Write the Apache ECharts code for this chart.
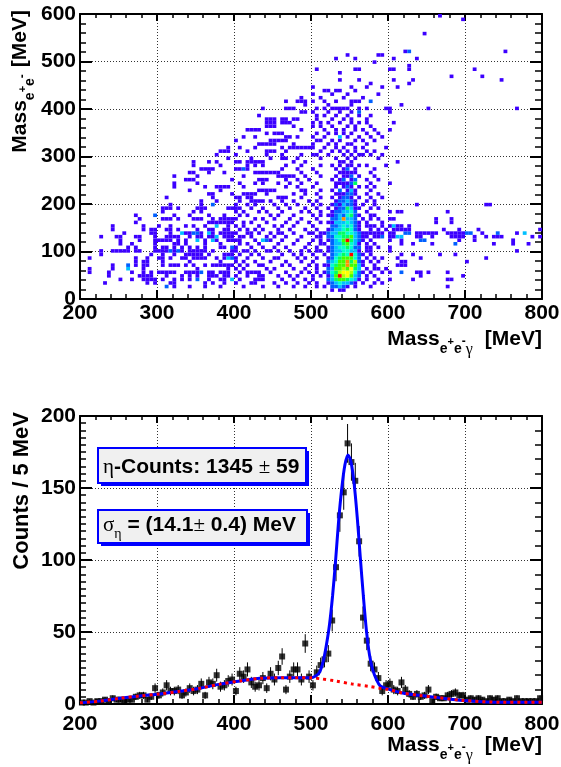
<!DOCTYPE html>
<html>
<head>
<meta charset="utf-8">
<script src="https://cdn.jsdelivr.net/npm/echarts@6/dist/echarts.min.js"></script>
<style>
  html, body { margin: 0; padding: 0; background: #fff; }
  #chart { width: 561px; height: 767px; }
</style>
</head>
<body>
<div id="chart"></div>
<script>
// top panel: 2D histogram, x bins of 5 MeV from 200, y bins of 7.5 MeV from 0
// one string per y-bin row (row 0 = lowest), tokens "col" (1 entry) or "col:count"
const heatRows = [
  '',
  '',
  '65 67 68',
  '22:2 24 28 32 36 42 47 51 55 58 61 63 65:2 66:2 67:3 68:2 69 71 75 95',
  '6 17 19 23 24 32 34 37 40 44 45 50 53 56 59 61 64 65:2 66:3 67:4 68:3 69:3 70:2 71 73 76 78',
  '10 13 16 17 18 19 21 24 26 28 30:2 33 36 37 39:3 41 45 46 47 52 55 58 60 64:2 65:3 66:5 67:6 68:6 69:5 70:4 71:3 72 74 77 80 86 95 96',
  '7 15 16 17 18 22 26 28 30 33 34 35 37 38 40 43 46 47 51 54 56 60 62 64 65:3 66:6 67:10 68:7 69:8 70:6 71:3 72:2 74 76 88 99',
  '2 7 13 16 18 20 21 22 23 24 27 28 29 30 31:2 33 34 36 37 38 41 43 44 45 46 49 53 57 59 61 63 64:2 65:4 66:5 67:7 68:8 69:8 70:7 71:4 72:2 73 75 78 80 83:2 87 88 90 95',
  '2 8 12:3 16 30 38 40 42 48 50 55 58 61 64:2 65:3 66:6 67:6 68:7 69:6 70:8 71:5 72:3 74 76 77 79',
  '8 12:2 14 16 17 21 23 24 25 27 29 32 34 35 36 37 38 39 41 43 46 47 52 54 59 61 63 64 65:4 66:5 67:6 68:6 69:9 70:6 71:6 72:3 73 76 82 83 84',
  '14 16 17 21 28 36 40 42 45 49 53 57 60 64:2 65:3 66:4 67:6 68:6 69:9 70:5 71:7 72:2 73 75 77 83 84 100',
  '2 14 17 20 21 23 26 27 29 30 31 32 35 37 38:3 39:2 40 43 47 50 51 56 58 61 64 65:2 66:4 67:5 68:6 69:6 70:6 71:4 72:2 74 76 78 82 88 105',
  '5 18 21 24 27 28 29 30 31 33 37 38 39 41 44 46 52 55 57 60 63 65:2 66:3 67:4 68:5 69:4 70:10 71:4 72:2 73 75 83 86 93 97',
  '5 8 9 10 11 12 14 15 19 20 21 22 23:2 24 25:2 26 28 29 30 31 32 34 39 40 42 43 45 48 49 51 54 57 59 61 62 64 65:2 66:3 67:3 68:4 69:4 70:3 71:3 72 74 75 80 113',
  '12 14 19 21 22 24 26 28 30 32 36 37 39:2 40 44 47 50 53 58 61 64 65:2 66:3 67:4 68:4 69:5 70:4 71:2 72:2 74 75 77 80',
  '10 13 19 24 25 27 32 36 41 43 46 51 55 59 62 63 65:2 66:3 67:3 68:5 69:6 70:4 71:3 72 74 76 83 86 91 97:2 107 112 116',
  '10 15 19 20 21 22 23 25 27 30:3 32 34:3 35 38 39 40 41 45 47:3 48:2 49 52 56 60 62 64 65:2 66:3 67:4 68:6 69:10 70:5 71:3 72:2 73 75 80 83 88:2 89:2 98 102 112',
  '5 9 10 14 15 19 22 23 24 25 28 30 31 33 34 35:3 37 38 39 41 42 44 48 50 53 57 61 62 64:2 65:2 66:4 67:4 68:5 69:5 70:6 71:3 72:2 73 74 76 77 78:2 80 81 82:3 83:3 87 88 91 96 97 98 99 102 105 107 108 109 117 119',
  '11 18 19 23 26:3 27 28 29:2 30:2 31 33:3 34 36 37 38 39 40 43 44 46 49 51 52 55 59 60 62 63 64:2 65:3 66:3 67:5 68:5 69:4 70:4 71:3 72:2 73 74 75 76 77 78 80 81 84:2 85:2 87 88 89 90 91 92 95 96 97 98 99 100:2 101:2 104 108:2 113 115:3',
  '8 16 18 19 22 23 25 30 33 34 37 38 41 43 45 47 51 54 58 61 64 65:2 66:3 67:3 68:4 69:5 70:4 71:2 72 75 77 79 81 82 83 84 85 94 98 103 119',
  '8 16 20 23 27 29 32 35:3 38 40 42 46 50 52 55 60 65:2 66:2 67:3 68:4 69:3 70:4 71:2 72 74 75 76 78 80 81:3 82 83 85',
  '14 33 34 35 36 37 38 39 42 44 48 53 56 59 62 64 65 66:3 67:3 68:3 69:4 70:3 71:2 72 74 78 92 96',
  '15 21 22 23 25 29 30 31 34 36 37 38 39 40 45 47 50 54 57 61 65:2 66:2 67:3 68:9 69:3 70:3 71:2 73 75 77 80 81 92 96',
  '14 19:2 24 28 33 37 41 43 49 51 55 60 62 64 65 66:2 67:3 68:2 69:4 70:5 71:2 72 75 76',
  '21 29 31 40 42 46 48 52 57 59 62 65 66:2 67:2 68:3 69:3 70:4 71:2 74 80 82 83 95',
  '21 22 23 25 30 31 32 38 39 40 41 44 47 51 54 58 61 64 66 67:2 68:2 69:5 70:3 71 72 75 77',
  '23 31 34:2 40 43 45 50 53 56 60 62 65 66:2 67 68:3 69:2 70:2 71 73 76 87 105 106',
  '31 35 41 44 45 46 47 49 52 55 59 61 66 67:2 68:2 69:3 70:2 71 74 76',
  '22 34 40 41 43 44 51 52 53 57 62 65 67 68:2 69:2 70 72 75 78',
  '33 34 39 42 43 44 45 48 55 58 61 66 67 68 69:2 70:2 71 74 77',
  '28 36 46 47 48 49 50 57 58 62 65 67:2 69 70:3 71 75',
  '24 32 35 36 37 38 42 53 56 60 66 68 69:2 70 72 74 76',
  '24 30 41 45 47 51 54 57 61 66 67 68 69 70:2 71:5 75 80',
  '27 28 29 39 46 47 48 53 56 59 65 67 68:2 70 71:2 74 77',
  '24 30 42 51 52 53 54 55 58 62 66 68 69 70:2 72 76',
  '28 29 33 37 45 46 47 48 49 50 51 57 61 67 68 69 70 71 75',
  '31 32 33 34 40 41 42:2 43 52 56 60 66 68 69:2 71 76',
  '29 36 43 45 47 53 57 62 65 67 69 70 72 74 79',
  '29 33 35 40 41 43 44 45 46 47 55 58 67 68 70 82',
  '38 44 49 52 53 56 62 66 69 71 77',
  '35 40 48 52 57 60 61 64 68 70 72 73 75 78',
  '36 37 38 43 48 49 50 53 62 65 67 69 71 74 76',
  '38 41 45 52 54 55 56 57 58 59 60 63 66 68 71 73 79',
  '46 47 48 49 50 55 60 64 66 69 70 74',
  '40 49 50 51 52 53 61 62 65 67 71 73 76',
  '42 45 53 54 56 60 63 67:3 69 72 75 78',
  '48 50 51 52 61 64 66 68 70 74 77',
  '43 44 45 46 57 63 66 68 71 73 76 80',
  '48 49 50 55 60 62 65 69 71 75',
  '48 49 50 52 53 54 60 62 64 67 70 72 74 81',
  '48 49 50 52 53 55 56 61 65 68 70 74',
  '46 61 63 66 69 72 75',
  '57 58 60 64 67 70 72:2 80',
  '47 53 54 55 61 63 65 66 67 68 69 72 74 79 80 90 113',
  '58 64 70 83',
  '53 56 57 58 60 63 66 70 71 72 75:2',
  '57 62 68 73',
  '60 65 69 77',
  '63 64 66 67 71',
  '60 70 74 78 82',
  '75 85',
  '67 72 81 86 109',
  '96 104',
  '67',
  '61 71 72 80 81 85 102',
  '85',
  '76',
  '66 71 81 87',
  '69 77 78',
  '84 85:2 110',
  '', '', '', '',
  '89',
  '', '', '',
  '99',
  '93'
];

// bottom panel: counts per 5 MeV bin, 200..800 MeV (120 bins)
const counts = [
  1, 1, 2, 1, 2, 2, 3, 2, 4, 3,
  3, 2, 3, 3, 5, 6, 6, 3, 5, 11,
  6, 8, 13, 9, 9, 10, 6, 8, 11, 9,
  10, 14, 6, 15, 14, 20, 12, 13, 16, 17,
  9, 21, 19, 24, 15, 12, 13, 18, 11, 21,
  17, 25, 33, 10, 19, 24, 24, 17, 42, 19,
  13, 22, 27, 31, 35, 58, 95, 131, 147, 181,
  168, 155, 113, 60, 44, 28, 24, 18, 9, 13,
  14, 10, 9, 15, 10, 7, 5, 7, 5, 6,
  10, 2, 5, 4, 4, 6, 7, 8, 6, 6,
  3, 4, 3, 4, 3, 2, 4, 3, 4, 2,
  2, 3, 2, 4, 2, 2, 2, 2, 2, 4
];

// fit curves: [mass, counts]
const fitTotal = [
  [200, 0.8], [226, 2], [252, 4], [278, 5.6], [304, 7], [330, 8.8], [356, 11],
  [382, 13.8], [408, 16], [434, 17.8], [460, 18.3], [480, 18.3], [500, 18.2],
  [506, 19.5], [511, 22], [516, 30], [520, 41], [524, 55], [528, 75], [532, 100],
  [536, 128], [540, 150], [544, 166], [548, 173], [552, 168], [556, 153], [560, 130],
  [564, 102], [568, 75], [572, 51], [576, 34], [580, 24], [585, 17], [590, 12.5],
  [600, 10.5], [619, 7.6], [640, 6], [663, 4.6], [697, 2.5], [749, 1.2], [800, 1.2]
];
const fitBackground = [
  [200, 0.8], [226, 2], [252, 4], [278, 5.6], [304, 7], [330, 8.8], [356, 11],
  [382, 13.8], [408, 16], [434, 17.8], [460, 18.3], [480, 18.3], [500, 18.2],
  [511, 17.6], [532, 16], [554, 13.8], [576, 12.2], [589, 11], [600, 10.2],
  [619, 7.6], [640, 6], [663, 4.6], [697, 2.5], [749, 1.2], [800, 1.2]
];

const X_MIN = 200, X_BIN = 5, Y_BIN = 7.5;

const heatData = [];
heatRows.forEach((row, j) => {
  row.split(' ').filter(Boolean).forEach(tok => {
    const [c, n] = tok.split(':');
    heatData.push([X_MIN + Number(c) * X_BIN, j * Y_BIN, n ? Number(n) : 1]);
  });
});
const points = counts.map((c, i) => [X_MIN + X_BIN * (i + 0.5), c]);
const errData = counts.map((c, i) => [X_MIN + X_BIN * (i + 0.5), c, Math.sqrt(c)]);

const SANS = '"Liberation Sans", Arial, Helvetica, sans-serif';
const SERIF = '"Liberation Serif", "Times New Roman", serif';
const measureCtx = document.createElement('canvas').getContext('2d');

// lay out a line of mixed-size text pieces (for sub/superscripts)
function textLine(parts, z) {
  let x = 0;
  const children = parts.map(p => {
    const weight = p.w || 'bold', fam = p.f || SANS;
    measureCtx.font = weight + ' ' + p.s + 'px ' + fam;
    x += p.dx || 0;
    const el = {
      type: 'text', x: x, y: (p.dy || 0) - 0.35 * p.s, z: z,
      style: { text: p.t, fontSize: p.s, fontWeight: weight, fontFamily: fam,
               fill: '#000', align: 'left', verticalAlign: 'middle' }
    };
    x += measureCtx.measureText(p.t).width;
    return el;
  });
  return { children, width: x };
}

const massEEG = [
  { t: 'Mass', s: 21 }, { t: 'e', s: 14, dy: 7 }, { t: '+', s: 11, dy: -1 },
  { t: 'e', s: 14, dy: 7 }, { t: '-', s: 12, dy: -1 },
  { t: 'γ', s: 16, w: 'normal', f: SERIF, dy: 8 }, { t: '[MeV]', s: 21, dx: 12 }
];
const massEE = [
  { t: 'Mass', s: 21 }, { t: 'e', s: 14, dy: 7 }, { t: '+', s: 11, dy: -1 },
  { t: 'e', s: 14, dy: 7 }, { t: '-', s: 12, dy: -1 }, { t: '[MeV]', s: 21, dx: 7 }
];
const countsTitle = [{ t: 'Counts / 5 MeV', s: 22 }];
const box1Text = [
  { t: 'η', s: 21, w: 'normal', f: SERIF }, { t: '-Counts: 1345 ', s: 21 },
  { t: '±', s: 21, w: 'normal', f: SERIF }, { t: ' 59', s: 21 }
];
const box2Text = [
  { t: 'σ', s: 21, w: 'normal', f: SERIF }, { t: 'η', s: 14, w: 'normal', f: SERIF, dy: 6 },
  { t: ' = (14.1', s: 21 }, { t: '±', s: 21, w: 'normal', f: SERIF }, { t: ' 0.4) MeV', s: 21 }
];

function xTitle(parts, right, baseline) {
  const l = textLine(parts, 50);
  return { type: 'group', x: right - l.width, y: baseline, children: l.children };
}
function yTitle(parts, baselineX, top) {
  const l = textLine(parts, 50);
  return { type: 'group', x: baselineX, y: top + l.width, rotation: Math.PI / 2, children: l.children };
}
function pave(x, y, w, h, parts, tx, baseline) {
  const l = textLine(parts, 61);
  return [
    { type: 'rect', z: 59, shape: { x: x + 3, y: y + 3, width: w, height: h }, style: { fill: '#0000ff' } },
    { type: 'rect', z: 60, shape: { x: x, y: y, width: w, height: h }, style: { fill: '#f0f0f0', stroke: '#0000ff', lineWidth: 2 } },
    { type: 'group', x: tx, y: baseline, children: l.children }
  ];
}

const labelFont = { fontFamily: SANS, fontWeight: 'bold', fontSize: 21, color: '#000' };
const frameLine = { show: true, onZero: false, lineStyle: { color: '#000', width: 2 } };
const dotted = { show: true, lineStyle: { color: '#333', width: 1, type: [1, 2] } };

function mainX(grid, margin) {
  return {
    gridIndex: grid, type: 'value', min: 200, max: 800, interval: 100, position: 'bottom',
    axisLine: frameLine,
    axisTick: { inside: true, length: 9, lineStyle: { color: '#000', width: 2 } },
    minorTick: { show: true, splitNumber: 5, length: 5, lineStyle: { color: '#000', width: 1.5 } },
    axisLabel: Object.assign({ margin: margin }, labelFont),
    splitLine: dotted
  };
}
function mirrorX(grid) {
  return {
    gridIndex: grid, type: 'value', min: 200, max: 800, interval: 100, position: 'top',
    axisLine: frameLine,
    axisTick: { inside: true, length: 7, lineStyle: { color: '#000', width: 2 } },
    minorTick: { show: true, splitNumber: 5, length: 4, lineStyle: { color: '#000', width: 1.5 } },
    axisLabel: { show: false }, splitLine: { show: false }
  };
}
function mainY(grid, max, interval, minorSplit) {
  return {
    gridIndex: grid, type: 'value', min: 0, max: max, interval: interval, position: 'left',
    axisLine: frameLine,
    axisTick: { inside: true, length: 12, lineStyle: { color: '#000', width: 2 } },
    minorTick: { show: true, splitNumber: minorSplit, length: 6, lineStyle: { color: '#000', width: 1.5 } },
    axisLabel: Object.assign({ margin: 4 }, labelFont),
    splitLine: dotted
  };
}
function mirrorY(grid, max, interval, minorSplit) {
  return {
    gridIndex: grid, type: 'value', min: 0, max: max, interval: interval, position: 'right',
    axisLine: frameLine,
    axisTick: { inside: true, length: 12, lineStyle: { color: '#000', width: 2 } },
    minorTick: { show: true, splitNumber: minorSplit, length: 7, lineStyle: { color: '#000', width: 1.5 } },
    axisLabel: { show: false }, splitLine: { show: false }
  };
}

const chart = echarts.init(document.getElementById('chart'), null, { renderer: 'canvas' });
chart.setOption({
  animation: false,
  backgroundColor: '#fff',
  grid: [
    { left: 80, top: 14, width: 462, height: 285, outerBoundsMode: 'none' },
    { left: 80, top: 416, width: 462, height: 288, outerBoundsMode: 'none' }
  ],
  xAxis: [mainX(0, 4), mirrorX(0), mainX(1, 10), mirrorX(1)],
  yAxis: [mainY(0, 600, 100, 5), mirrorY(0, 600, 100, 5), mainY(1, 200, 50, 10), mirrorY(1, 200, 50, 5)],
  visualMap: {
    type: 'continuous', show: false, seriesIndex: 0, dimension: 2, min: 1, max: 10,
    inRange: { color: ['#3c00ff', '#0060ff', '#00c0ff', '#00ffd0', '#00ff60', '#40ff00', '#b0ff00', '#ffff00', '#ff9000', '#ff0000'] }
  },
  series: [
    {
      type: 'custom', name: 'entries', xAxisIndex: 0, yAxisIndex: 0, data: heatData, z: 1,
      renderItem(params, api) {
        const p0 = api.coord([api.value(0), api.value(1) + Y_BIN]);
        const p1 = api.coord([api.value(0) + X_BIN, api.value(1)]);
        return {
          type: 'rect',
          shape: { x: p0[0], y: p0[1], width: p1[0] - p0[0], height: p1[1] - p0[1] },
          style: { fill: api.visual('color') }
        };
      }
    },
    {
      type: 'custom', name: 'errors', xAxisIndex: 2, yAxisIndex: 2, data: errData, z: 2, clip: true,
      renderItem(params, api) {
        const x = api.value(0), y = api.value(1), e = api.value(2);
        const lo = api.coord([x, Math.max(0, y - e)]);
        const hi = api.coord([x, y + e]);
        return { type: 'line', shape: { x1: lo[0], y1: lo[1], x2: hi[0], y2: hi[1] },
                 style: { stroke: '#000', lineWidth: 1 } };
      }
    },
    {
      type: 'scatter', name: 'data', xAxisIndex: 2, yAxisIndex: 2, data: points, z: 3,
      symbol: 'rect', symbolSize: 6, itemStyle: { color: '#000' }
    },
    {
      type: 'line', name: 'fit', xAxisIndex: 2, yAxisIndex: 2, data: fitTotal, z: 4,
      showSymbol: false, smooth: 0.3, lineStyle: { color: '#0000ff', width: 3 }
    },
    {
      type: 'line', name: 'background', xAxisIndex: 2, yAxisIndex: 2, data: fitBackground, z: 5,
      showSymbol: false, smooth: 0.3, lineStyle: { color: '#ff0000', width: 3, type: [3, 4] }
    }
  ],
  graphic: { elements: [
    xTitle(massEEG, 542, 347),
    xTitle(massEEG, 542, 753),
    yTitle(massEE, 28, 10),
    yTitle(countsTitle, 30, 412)
  ].concat(pave(98, 448, 208, 35, box1Text, 103, 475))
   .concat(pave(98, 510, 209, 33, box2Text, 103, 533)) }
});
</script>
</body>
</html>
